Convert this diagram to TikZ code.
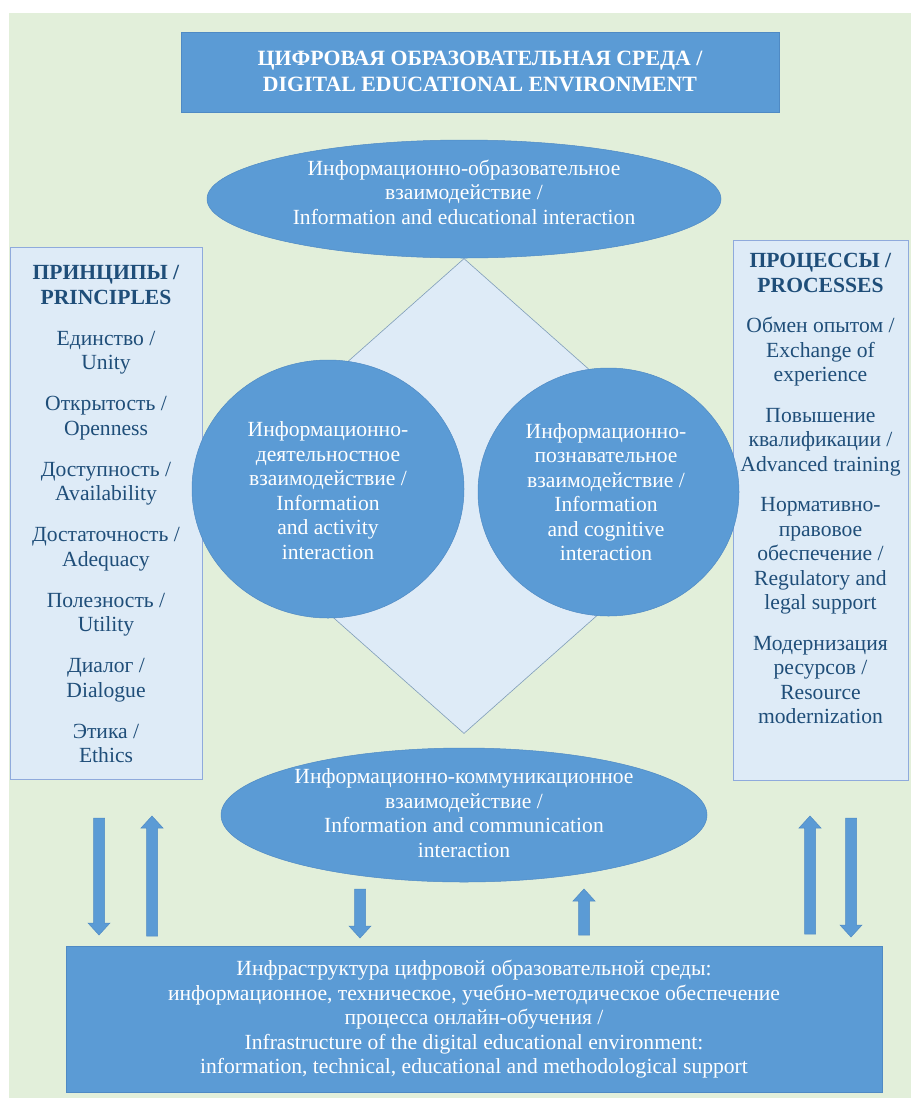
\documentclass[tikz,border=0pt]{standalone}
\usepackage{fontspec}
\setmainfont{Liberation Serif}
\usetikzlibrary{shapes.geometric,calc}
\definecolor{bggreen}{HTML}{E2EFDA}
\definecolor{mainblue}{HTML}{5B9BD5}
\definecolor{lightblue}{HTML}{DEEBF7}
\definecolor{navy}{HTML}{1F4E79}
\definecolor{panelline}{HTML}{8FAADC}
\definecolor{diamline}{HTML}{7F9DB9}
\definecolor{blueline}{HTML}{4F8AC4}
\tikzset{
  txt/.style={font=\fontsize{21.6}{24.5}\selectfont, align=center, inner sep=0pt},
  wtxt/.style={txt, text=white},
  ntxt/.style={txt, text=navy},
  bluerect/.style={rectangle, draw=blueline, line width=0.5pt, fill=mainblue, inner sep=0pt},
  blueell/.style={ellipse, draw=blueline, line width=0.5pt, fill=mainblue, inner sep=0pt},
  panel/.style={rectangle, draw=panelline, line width=0.6pt, fill=lightblue, inner sep=0pt},
  blockarrow/.style={draw=blueline, line width=0.5pt, fill=mainblue,
    to path={($(\tikztostart)+(-5.5,0)$) -- ($(\tikztotarget)+(-5.5,#1)$)
      -- ($(\tikztotarget)+(-11,#1)$) -- (\tikztotarget)
      -- ($(\tikztotarget)+(11,#1)$) -- ($(\tikztotarget)+(5.5,#1)$)
      -- ($(\tikztostart)+(5.5,0)$) -- cycle}}
}
\begin{document}
\begin{tikzpicture}[x=1pt,y=-1pt]
\useasboundingbox (0,0) rectangle (911,1101);
\fill[bggreen] (9,13) rectangle (911,1098);
% title
\node[bluerect, minimum width=598, minimum height=80] (title) at (480,72) {};
\node[wtxt, font=\fontsize{21.8}{26}\selectfont\bfseries] (titletxt) at (480,71)
  {ЦИФРОВАЯ ОБРАЗОВАТЕЛЬНАЯ СРЕДА /\\DIGITAL EDUCATIONAL ENVIRONMENT};
% diamond
\node[diamond, draw=diamline, line width=0.6pt, fill=lightblue, inner sep=0pt,
  minimum width=536, minimum height=475] (diam) at (464,496) {};
% top ellipse
\node[blueell, minimum width=514, minimum height=118] (topell) at (464,199) {};
\node[wtxt] (toptxt) at (464,192)
  {Информационно-образовательное\\взаимодействие /\\Information and educational interaction};
% side panels
\node[panel, minimum width=192, minimum height=532] (left) at (106,513) {};
\node[ntxt] (lefttxt) at (106,514)
  {\textbf{ПРИНЦИПЫ /}\\\textbf{PRINCIPLES}\\[16.5pt]
   Единство /\\Unity\\[16.5pt]
   Открытость /\\Openness\\[16.5pt]
   Доступность /\\Availability\\[16.5pt]
   Достаточность /\\Adequacy\\[16.5pt]
   Полезность /\\Utility\\[16.5pt]
   Диалог /\\Dialogue\\[16.5pt]
   Этика /\\Ethics};
\node[panel, minimum width=175, minimum height=540] (right) at (820.5,510) {};
\node[ntxt] (righttxt) at (820.5,488.5)
  {\textbf{ПРОЦЕССЫ /}\\\textbf{PROCESSES}\\[16pt]
   Обмен опытом /\\Exchange of\\experience\\[16pt]
   Повышение\\квалификации /\\Advanced training\\[16pt]
   Нормативно-\\правовое\\обеспечение /\\Regulatory and\\legal support\\[16pt]
   Модернизация\\ресурсов /\\Resource\\modernization};
% circles
\node[blueell, minimum width=272, minimum height=258] (lc) at (328,489) {};
\node[wtxt] (lctxt) at (328,490.5)
  {Информационно-\\деятельностное\\взаимодействие /\\Information\\and activity\\interaction};
\node[blueell, minimum width=261, minimum height=248] (rc) at (608.5,492) {};
\node[wtxt] (rctxt) at (606,492)
  {Информационно-\\познавательное\\взаимодействие /\\Information\\and cognitive\\interaction};
% bottom ellipse
\node[blueell, minimum width=486, minimum height=134] (botell) at (464,815) {};
\node[wtxt] (botelltxt) at (464,813)
  {Информационно-коммуникационное\\взаимодействие /\\Information and communication\\interaction};
% bottom box
\node[bluerect, minimum width=816, minimum height=146] (infra) at (474,1019) {};
\node[wtxt] (infratxt) at (474,1019.5)
  {Инфраструктура цифровой образовательной среды:\\
   информационное, техническое, учебно-методическое обеспечение\\
   процесса онлайн-обучения /\\
   Infrastructure of the digital educational environment:\\
   information, technical, educational and methodological support};
% arrows
\coordinate (la1) at (99,818);  \coordinate (la2) at (99,935);
\coordinate (lb1) at (152,936); \coordinate (lb2) at (152,816);
\coordinate (ma1) at (360,889); \coordinate (ma2) at (360,938);
\coordinate (mb1) at (584,935); \coordinate (mb2) at (584,889);
\coordinate (ra1) at (810,934); \coordinate (ra2) at (810,816);
\coordinate (rb1) at (851,818); \coordinate (rb2) at (851,937);
\draw[blockarrow=-12] (la1) to (la2);
\draw[blockarrow=12] (lb1) to (lb2);
\draw[blockarrow=-12] (ma1) to (ma2);
\draw[blockarrow=12] (mb1) to (mb2);
\draw[blockarrow=12] (ra1) to (ra2);
\draw[blockarrow=-12] (rb1) to (rb2);
\end{tikzpicture}
\end{document}
